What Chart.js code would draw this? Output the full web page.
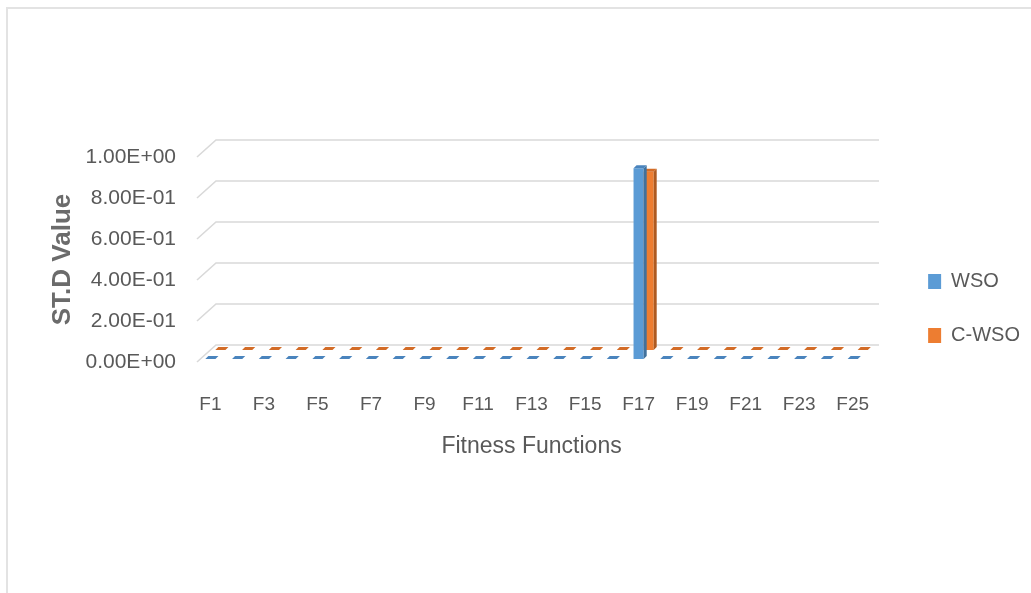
<!DOCTYPE html>
<html>
<head>
<meta charset="utf-8">
<script src="https://cdn.jsdelivr.net/npm/chart.js@4.4.1/dist/chart.umd.min.js"></script>
<style>
  html, body { margin: 0; padding: 0; background: #fff; overflow: hidden; }
  #frame { position: absolute; left: 6px; top: 7px; width: 1040px; height: 600px; border: 2px solid #e3e3e3; }
  #wrap { position: absolute; left: 0; top: 0; width: 1031px; height: 593px; }
</style>
</head>
<body>
<div id="frame"></div>
<div id="wrap"><canvas id="stdChart"></canvas></div>
<script>
// categories F1..F25
const functions = ['F1','F2','F3','F4','F5','F6','F7','F8','F9','F10','F11','F12','F13',
  'F14','F15','F16','F17','F18','F19','F20','F21','F22','F23','F24','F25'];

// ST.D values (all ~0 except F17)
const wsoStd  = [0,0,0,0,0,0,0,0,0,0,0,0,0,0,0,0,0.93,0,0,0,0,0,0,0,0];
const cwsoStd = [0,0,0,0,0,0,0,0,0,0,0,0,0,0,0,0,0.87,0,0,0,0,0,0,0,0];

const yTicks = [0, 0.2, 0.4, 0.6, 0.8, 1.0];

// 3D look: depth shift of each series and of the back wall
const depth = [{ dx: 0, dy: -3 }, { dx: 10, dy: -12 }];
const wall = { dx: 19, dy: -17, right: 879 };
const faceCols = [
  { top: '#4a84bd', side: '#41719c' },
  { top: '#d36c27', side: '#ae5a21' }
];

function sci(v) {
  const parts = Number(v).toExponential(2).split('e');
  const e = parts[1];
  return parts[0] + 'E' + e[0] + e.slice(1).padStart(2, '0');
}

const threeD = {
  id: 'threeD',
  beforeDatasetsDraw(chart) {
    const c = chart.ctx, y = chart.scales.y, a = chart.chartArea;
    c.save();
    c.strokeStyle = '#d9d9d9';
    c.lineWidth = 1.6;
    yTicks.forEach(t => {
      const py = y.getPixelForValue(t);
      c.beginPath();
      c.moveTo(a.left, py);
      c.lineTo(a.left + wall.dx, py + wall.dy);
      c.lineTo(wall.right, py + wall.dy);
      c.stroke();
    });
    c.restore();
  },
  beforeDatasetDraw(chart, args) {
    const d = depth[args.index];
    chart.ctx.save();
    chart.ctx.translate(d.dx, d.dy);
  },
  afterDatasetDraw(chart, args) {
    const c = chart.ctx;
    const col = faceCols[args.index];
    const k = 3;
    args.meta.data.forEach(el => {
      const p = el.getProps(['x', 'y', 'base', 'width'], true);
      const x1 = p.x - p.width / 2, x2 = p.x + p.width / 2;
      // side face
      if (p.base - p.y > 1) {
        c.fillStyle = col.side;
        c.beginPath();
        c.moveTo(x2, p.y);
        c.lineTo(x2 + k, p.y - k);
        c.lineTo(x2 + k, p.base - k);
        c.lineTo(x2, p.base);
        c.closePath();
        c.fill();
      }
      // top face
      c.fillStyle = col.top;
      c.beginPath();
      c.moveTo(x1, p.y);
      c.lineTo(x2, p.y);
      c.lineTo(x2 + k, p.y - k);
      c.lineTo(x1 + k, p.y - k);
      c.closePath();
      c.fill();
    });
    c.restore();
  }
};

const ctx = document.getElementById('stdChart').getContext('2d');

new Chart(ctx, {
  type: 'bar',
  data: {
    labels: functions,
    datasets: [
      {
        label: 'WSO',
        data: wsoStd,
        backgroundColor: '#5b9bd5',
        borderWidth: 0,
        grouped: false,
        categoryPercentage: 1,
        barPercentage: 0.38
      },
      {
        label: 'C-WSO',
        data: cwsoStd,
        backgroundColor: '#ed7d31',
        borderWidth: 0,
        grouped: false,
        categoryPercentage: 1,
        barPercentage: 0.38
      }
    ]
  },
  options: {
    responsive: true,
    maintainAspectRatio: false,
    animation: false,
    layout: {
      padding: { left: 47, top: 157, right: 1, bottom: 133 }
    },
    scales: {
      y: {
        min: 0,
        max: 1,
        afterBuildTicks: s => { s.ticks = yTicks.map(v => ({ value: v })); },
        afterFit: s => { s.width = 150; },
        grid: { display: false },
        border: { display: false },
        ticks: {
          padding: 13,
          color: '#595959',
          font: { family: 'Liberation Sans', size: 21 },
          callback: v => sci(v)
        },
        title: {
          display: true,
          text: 'ST.D Value',
          color: '#6b6b6b',
          font: { family: 'Liberation Sans', size: 26, weight: 'bold' },
          padding: { top: 0, bottom: 10 }
        }
      },
      y2: {
        position: 'right',
        display: true,
        grid: { display: false },
        border: { display: false },
        ticks: { display: false },
        afterFit: s => { s.width = 28; }
      },
      x: {
        afterFit: s => { s.height = 98; },
        grid: { display: false },
        border: { display: false },
        ticks: {
          padding: 23,
          autoSkip: false,
          maxRotation: 0,
          color: '#595959',
          font: { family: 'Liberation Sans', size: 19 },
          callback: function (v, i) { return i % 2 === 0 ? this.getLabelForValue(v) : ''; }
        },
        title: {
          display: true,
          text: 'Fitness Functions',
          color: '#595959',
          font: { family: 'Liberation Sans', size: 23 },
          padding: { top: 0, bottom: 0 }
        }
      }
    },
    plugins: {
      legend: {
        position: 'right',
        align: 'center',
        labels: {
          boxWidth: 13,
          boxHeight: 15,
          padding: 34,
          color: '#595959',
          font: { family: 'Liberation Sans', size: 20 }
        }
      },
      tooltip: { enabled: false }
    }
  },
  plugins: [threeD]
});
</script>
</body>
</html>
